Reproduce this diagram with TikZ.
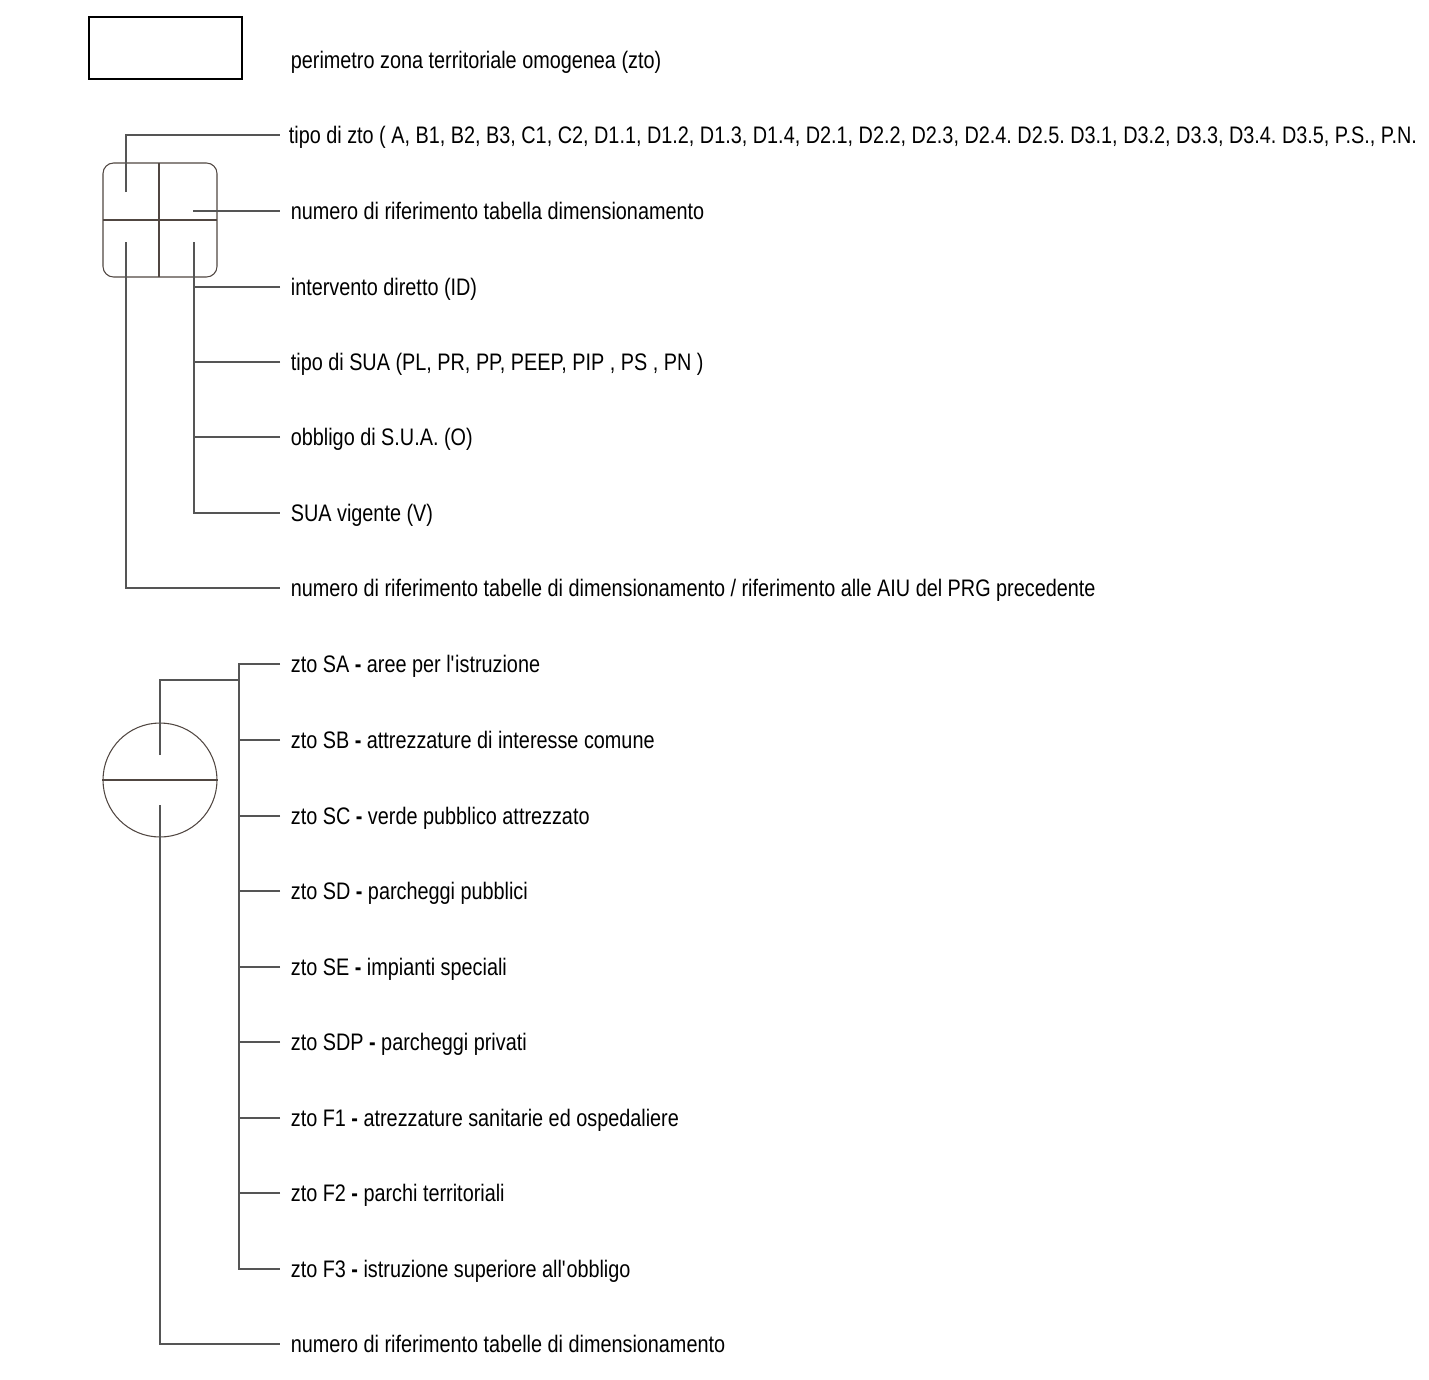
\documentclass[tikz,border=0pt]{standalone}
\usepackage{fontspec}
\setmainfont{Liberation Sans}[FakeStretch=0.83]
\usepackage{xcolor}
\definecolor{lngray}{RGB}{85,85,85}
\definecolor{symgray}{RGB}{80,70,65}
\usepackage{tikz}
\usetikzlibrary{positioning, calc}
\frenchspacing

\tikzset{
  lbl/.style={anchor=west, inner xsep=0.21cm, inner ysep=0pt, text height=9.7pt, text depth=0pt,
    font=\fontsize{13.6}{16}\selectfont},
  conn/.style={draw=lngray, line width=0.6pt},
  symb/.style={draw=symgray, line width=0.6pt}
}

\begin{document}
\begin{tikzpicture}[x=0.02cm, y=-0.02cm]
  \useasboundingbox (0,0) rectangle (1429,1379);

  % Perimeter of the zone
  \node[draw=black, line width=1.2pt, minimum width=3.06cm, minimum height=1.24cm, inner sep=0pt] (zto) at (165.5,48) {};
  \node[lbl] (lperim) at (280,60) {perimetro zona territoriale omogenea (zto)};

  % --- Zone symbol (four cells) ---
  \draw[symb, rounded corners=6pt] (103,163) rectangle (217,277);
  \draw[symb] (159,163) -- (159,277);
  \draw[symb] (103,220) -- (217,220);
  \coordinate (celltl) at (126,192);
  \coordinate (celltr) at (193,211);
  \coordinate (cellbl) at (126,242);
  \coordinate (cellbr) at (194,242);

  \node[lbl, inner xsep=0.17cm] (ltipo) at (280,135) {tipo di zto ( A, B1, B2, B3, C1, C2, D1.1, D1.2, D1.3, D1.4, D2.1, D2.2, D2.3, D2.4. D2.5. D3.1, D3.2, D3.3, D3.4. D3.5, P.S., P.N.};
  \node[lbl] (lnum) at (280,211) {numero di riferimento tabella dimensionamento};
  \node[lbl] (lint) at (280,287) {intervento diretto (ID)};
  \node[lbl] (lsua) at (280,362) {tipo di SUA (PL, PR, PP, PEEP, PIP , PS , PN )};
  \node[lbl] (lobb) at (280,437) {obbligo di S.U.A. (O)};
  \node[lbl] (lvig) at (280,513) {SUA vigente (V)};
  \node[lbl] (laiu) at (280,588) {numero di riferimento tabelle di dimensionamento / riferimento alle AIU del PRG precedente};

  \draw[conn] (celltl) |- (ltipo.west);
  \draw[conn] (celltr) -- (lnum.west);
  \draw[conn] (cellbr) |- (lvig.west);
  \draw[conn] (lint.west) -- (lint.west -| cellbr);
  \draw[conn] (lsua.west) -- (lsua.west -| cellbr);
  \draw[conn] (lobb.west) -- (lobb.west -| cellbr);
  \draw[conn] (cellbl) |- (laiu.west);

  % --- Services symbol (circle) ---
  \node[symb, circle, minimum size=2.28cm, inner sep=0pt] (srv) at (160,780) {};
  \draw[symb] (srv.west) -- (srv.east);
  \coordinate (srvtop) at (160,755);
  \coordinate (srvbot) at (160,805);
  \coordinate (bus) at (239,680);

  \node[lbl] (lsa) at (280,664) {zto SA {\bfseries -} aree per l\textquotesingle istruzione};
  \node[lbl] (lsb) at (280,740) {zto SB {\bfseries -} attrezzature di interesse comune};
  \node[lbl] (lsc) at (280,816) {zto SC {\bfseries -} verde pubblico attrezzato};
  \node[lbl] (lsd) at (280,891) {zto SD {\bfseries -} parcheggi pubblici};
  \node[lbl] (lse) at (280,967) {zto SE {\bfseries -} impianti speciali};
  \node[lbl] (lsdp) at (280,1042) {zto SDP {\bfseries -} parcheggi privati};
  \node[lbl] (lfa) at (280,1118) {zto F1 {\bfseries -} atrezzature sanitarie ed ospedaliere};
  \node[lbl] (lfb) at (280,1193) {zto F2 {\bfseries -} parchi territoriali};
  \node[lbl] (lfc) at (280,1269) {zto F3 {\bfseries -} istruzione superiore all\textquotesingle obbligo};
  \node[lbl] (lnr) at (280,1344) {numero di riferimento tabelle di dimensionamento};

  \draw[conn] (srvtop) |- (bus);
  \draw[conn] (lsa.west) -| (bus);
  \draw[conn] (bus) |- (lfc.west);
  \foreach \n in {lsb, lsc, lsd, lse, lsdp, lfa, lfb}
    \draw[conn] (\n.west) -- (\n.west -| bus);
  \draw[conn] (srvbot) |- (lnr.west);
\end{tikzpicture}
\end{document}
